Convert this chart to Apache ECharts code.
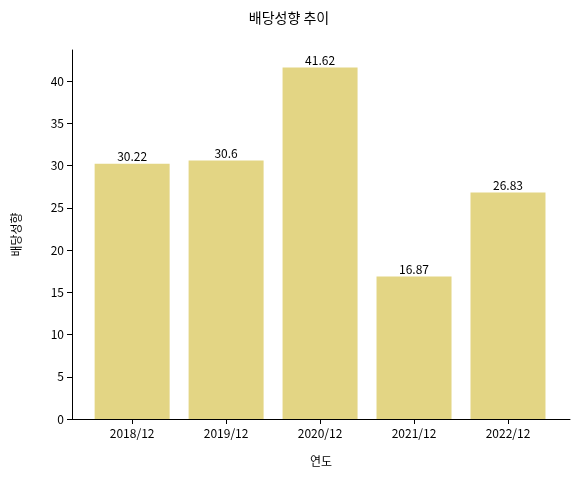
<!DOCTYPE html>
<html><head><meta charset="utf-8">
<script src="https://cdn.jsdelivr.net/npm/echarts@6/dist/echarts.min.js"></script>
<style>body{margin:0}#c{width:578px;height:479px}</style></head>
<body><div id="c"></div>
<script>
const years = ['2018/12', '2019/12', '2020/12', '2021/12', '2022/12']
const payout = [30.22, 30.6, 41.62, 16.87, 26.83]
const yTicks = [0, 5, 10, 15, 20, 25, 30, 35, 40]

const font = "'Noto Sans CJK KR', 'Noto Sans', sans-serif"
const chart = echarts.init(document.getElementById('c'))
chart.setOption({
  textStyle: { fontFamily: font },
  title: { text: '배당성향 추이', left: 'center', top: 6, textStyle: { fontSize: 14, fontWeight: 'normal', color: '#000', fontFamily: font } },
  grid: { left: 72, right: 8, top: 50, bottom: 60 },
  xAxis: {
    type: 'value', min: -0.64, max: 4.66,
    name: '연도', nameLocation: 'middle', nameGap: 36, nameTextStyle: { color: '#000', fontSize: 12 },
    splitLine: { show: false },
    axisLine: { onZero: false, lineStyle: { color: '#000' } },
    axisTick: { show: true, customValues: [0, 1, 2, 3, 4], lineStyle: { color: '#000' } },
    axisLabel: { customValues: [0, 1, 2, 3, 4], formatter: v => years[Math.round(v)], color: '#000', fontSize: 12 }
  },
  yAxis: {
    type: 'value', min: 0, max: 43.7, interval: 5,
    name: '배당성향', nameLocation: 'middle', nameGap: 50, nameTextStyle: { color: '#000', fontSize: 12 },
    splitLine: { show: false },
    axisLine: { show: true, onZero: false, lineStyle: { color: '#000' } },
    axisTick: { show: true, customValues: yTicks, lineStyle: { color: '#000' } },
    axisLabel: { customValues: yTicks, color: '#000', fontSize: 12 }
  },
  series: [{
    type: 'bar', barWidth: 75,
    data: payout.map((v, i) => [i, v]),
    itemStyle: { color: '#e3d584' },
    label: { show: true, position: 'top', distance: 1, color: '#000', fontSize: 12, formatter: p => String(p.value[1]) }
  }]
})
</script></body></html>
